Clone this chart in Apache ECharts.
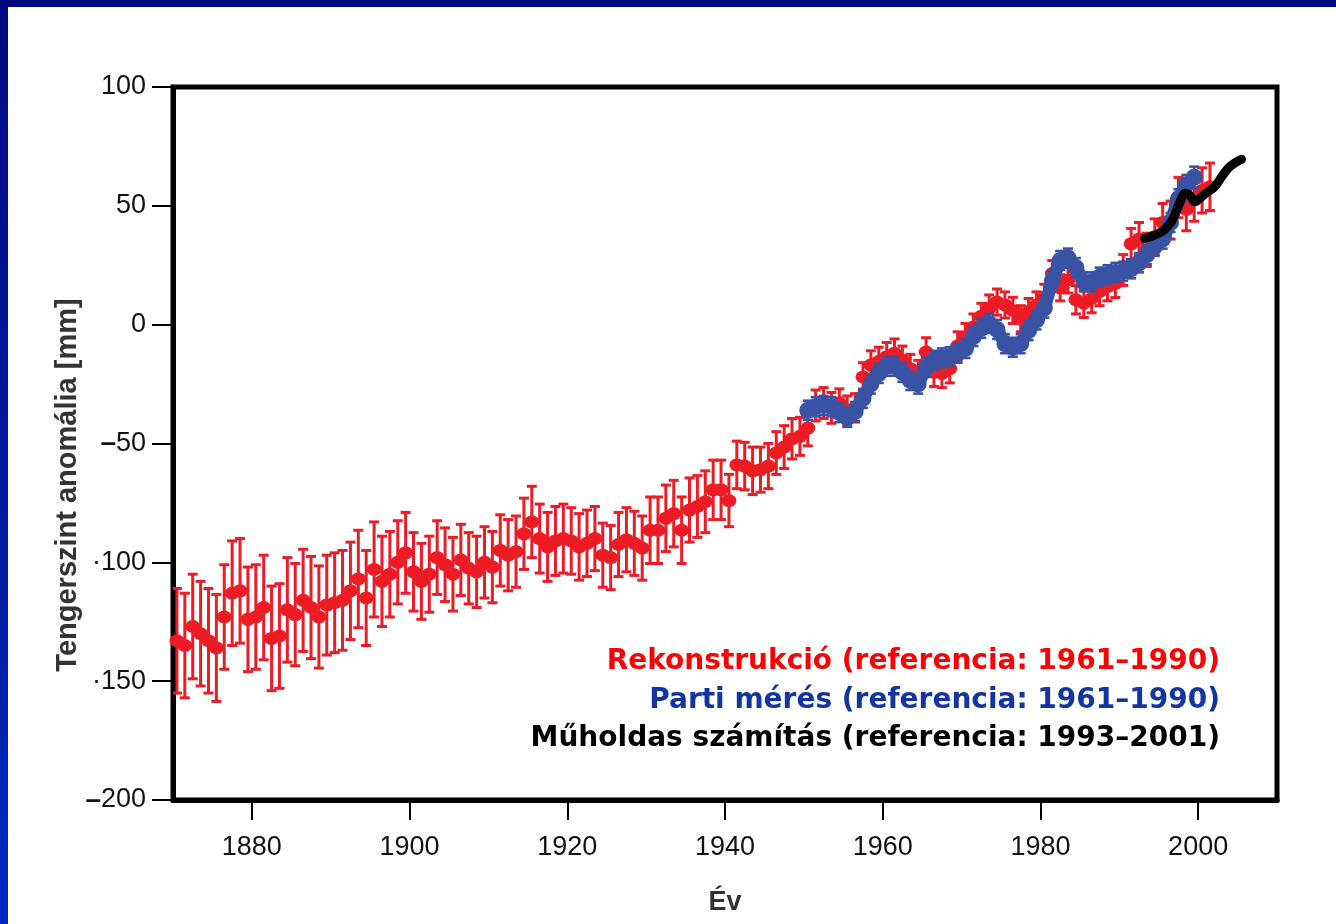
<!DOCTYPE html>
<html>
<head>
<meta charset="utf-8">
<title>Tengerszint anomália</title>
<script src="https://cdn.jsdelivr.net/npm/echarts@6/dist/echarts.min.js"></script>
<style>
  html, body { margin: 0; padding: 0; width: 1336px; height: 924px; overflow: hidden; background: #ffffff; }
  #chart { position: absolute; left: 0; top: 0; width: 1336px; height: 924px; }
  .frame-top { position: absolute; left: 0; top: 0; width: 1336px; height: 7px; background: #000a80; }
  .frame-left { position: absolute; left: 0; top: 0; width: 8px; height: 924px; background: linear-gradient(#000a80, #0028c0); }
</style>
</head>
<body>
<div id="chart"></div>
<div class="frame-top"></div>
<div class="frame-left"></div>
<script>
// Reconstructed global mean sea level, annual values from 1870 (mm, relative to 1961–1990)
const reconStartYear = 1870;
const reconValues = [
  -133, -135, -127, -130, -133, -136, -123, -113, -112, -124,
  -123, -119, -132, -131, -120, -122, -116, -119, -123, -118,
  -117, -116, -112, -107, -115, -103, -108, -105, -100, -96,
  -104, -108, -105, -98, -101, -105, -99, -102.5, -104, -100,
  -102, -95, -97, -95.5, -88, -83, -90, -93.5, -91, -90,
  -91, -93.5, -92, -90, -97, -98, -92.5, -90.5, -92, -94,
  -86.5, -86.5, -81.5, -79.5, -86.5, -78, -76.5, -74.5, -69.5, -69.5,
  -74, -59, -59.5, -61.5, -61, -59.5, -54, -51.5, -48, -47,
  -43.5, -34, -33, -35, -33, -36, -35, -22, -17, -15.5,
  -13.5, -12, -15, -18.5, -21, -11.5, -20, -20.5, -18.5, -9,
  -5, -1, 3.5, 7, 9.5, 8.3, 6, 2.5, 5.5, 8.3,
  11.5, 21.5, 15.5, 18.8, 10.5, 9, 11, 14, 16, 17.4,
  23, 34, 36, 31.5, 37, 43, 44, 53.5, 48.5, 52.5,
  56.5, 58
];
// One-sigma uncertainty of the reconstruction (mm)
const reconErrors = [
  22, 22, 22, 22, 22, 22.5, 22, 22, 22, 22,
  22, 22, 22, 22, 22, 21.5, 21.5, 21.5, 21.5, 21,
  21, 21, 20.5, 20.5, 20, 20, 19, 18, 17.5, 17,
  16.5, 16, 16, 15.5, 15.5, 15.5, 15, 15, 15, 15,
  15, 15, 15, 15, 15, 15, 14.5, 14.5, 14.5, 14.5,
  14, 14, 14, 13.5, 13.5, 13.5, 13.5, 13.5, 13.5, 13.5,
  14, 14, 14, 14, 14, 13.5, 13, 13, 12.5, 12.5,
  11, 10, 10, 10, 9.5, 9.5, 9, 9, 8.5, 8,
  7.5, 6.5, 6.5, 6.5, 6, 6, 6, 6, 6, 6,
  6, 6, 6, 6, 6, 6, 6, 6, 6, 6,
  5.5, 5.5, 5.5, 5.5, 5.5, 5.5, 5.5, 5.5, 5.5, 5.5,
  5.5, 5.5, 5.5, 5.5, 6, 6, 6, 6, 6, 6,
  6.5, 6.5, 7, 7, 7.5, 8, 8, 8.5, 9, 9,
  9.5, 10
];

// Tide-gauge sea level, annual values from 1950 (mm, relative to 1961–1990)
const gaugeStartYear = 1950;
const gaugeValues = [
  -36, -34.5, -34, -34.5, -37, -39, -36.5, -31, -25, -20.5,
  -17.5, -17.5, -20, -23.5, -25, -18, -15, -14, -13.5, -12,
  -10, -5, -1.5, 0.5, -2, -8, -9.5, -8, -2.5, 2,
  7, 18.5, 27, 28, 24, 18, 18, 20, 21, 22,
  22.5, 23.5, 26, 29.5, 33, 36, 43, 53, 59, 62
];
const gaugeErrors = [
  4, 4, 4, 4, 4, 4, 4, 4, 4, 4,
  4, 4, 4, 4, 4, 4, 4, 4, 4, 4,
  4, 4, 4, 4, 4, 4, 4, 4, 4, 4,
  4, 4, 4, 4, 4, 4, 4, 4, 4, 4,
  4, 4, 4, 4, 4, 4, 4, 4, 4, 4.5
];

// Satellite altimetry (mm, relative to 1993–2001)
const satYears  = [1993.2, 1994.5, 1995.7, 1996.6, 1997.2, 1997.9, 1998.3, 1998.9, 1999.6, 2000.2, 2001.0, 2002.1, 2003.0, 2003.8, 2004.6, 2005.5];
const satValues = [36.3, 37.7, 39.8, 43.3, 47.5, 53.2, 55.3, 54.6, 51.7, 53.2, 55.3, 58.1, 62.3, 65.8, 67.9, 69.6];

// Axis ticks and labels
const xTicks = [1880, 1900, 1920, 1940, 1960, 1980, 2000];
const yTickValues = [100, 50, 0, -50, -100, -150, -200];
const yTickLabels = ['100', '50', '0', '{d|–}50', '·100', '·150', '{d|–}200'];
const yTitle = 'Tengerszint anomália [mm]';
const xTitle = 'Év';

const legendLines = [
  { text: 'Rekonstrukció (referencia: 1961–1990)', color: '#ff0000' },
  { text: 'Parti mérés (referencia: 1961–1990)', color: '#1235a0' },
  { text: 'Műholdas számítás (referencia: 1993–2001)', color: '#000000' }
];

const RED = '#ed1c24';
const BLUE = '#3953a4';

// Annual means are plotted at mid-year
const reconPoints = reconValues.map((v, i) => [reconStartYear + i + 0.5, v]);
const reconBars = reconValues.map((v, i) => [reconStartYear + i + 0.5, v - reconErrors[i], v + reconErrors[i]]);
const gaugePoints = gaugeValues.map((v, i) => [gaugeStartYear + i + 0.5, v]);
const gaugeBars = gaugeValues.map((v, i) => [gaugeStartYear + i + 0.5, v - gaugeErrors[i], v + gaugeErrors[i]]);
const satPoints = satYears.map((y, i) => [y, satValues[i]]);

function errorBarRenderer(color, capHalf, lineWidth) {
  return function (params, api) {
    const x = api.value(0);
    const lo = api.coord([x, api.value(1)]);
    const hi = api.coord([x, api.value(2)]);
    const style = { stroke: color, lineWidth: lineWidth };
    return {
      type: 'group',
      children: [
        { type: 'line', shape: { x1: lo[0], y1: lo[1], x2: hi[0], y2: hi[1] }, style: style },
        { type: 'line', shape: { x1: lo[0] - capHalf, y1: lo[1], x2: lo[0] + capHalf, y2: lo[1] }, style: style },
        { type: 'line', shape: { x1: hi[0] - capHalf, y1: hi[1], x2: hi[0] + capHalf, y2: hi[1] }, style: style }
      ]
    };
  };
}

const chart = echarts.init(document.getElementById('chart'), null, { renderer: 'canvas' });

const axisFont = 'Liberation Sans, Arial, Helvetica, sans-serif';

chart.setOption({
  animation: false,
  backgroundColor: 'transparent',
  grid: {
    left: 173, right: 59, top: 87, bottom: 124,
    show: true, borderColor: '#000', borderWidth: 5, backgroundColor: 'transparent'
  },
  xAxis: {
    type: 'value', min: 1870, max: 2010,
    axisLine: { show: true, onZero: false, lineStyle: { color: '#000', width: 5 } },
    axisTick: { show: true, customValues: xTicks, length: 20, lineStyle: { color: '#000', width: 2 } },
    axisLabel: {
      customValues: xTicks, margin: 34, fontSize: 27, color: '#111', fontFamily: axisFont,
      formatter: function (v) { return String(v); }
    },
    splitLine: { show: false },
    name: xTitle, nameLocation: 'middle', nameGap: 89,
    nameTextStyle: { fontSize: 27, fontWeight: 'bold', color: '#333', fontFamily: axisFont }
  },
  yAxis: {
    type: 'value', min: -200, max: 100, interval: 50,
    axisLine: { show: true, onZero: false, lineStyle: { color: '#000', width: 5 } },
    axisTick: { show: true, length: 21, lineStyle: { color: '#000', width: 2 } },
    axisLabel: {
      margin: 27, fontSize: 27, color: '#111', fontFamily: axisFont,
      formatter: function (v) {
        const k = yTickValues.indexOf(v);
        return k >= 0 ? yTickLabels[k] : '';
      },
      rich: { d: { fontSize: 28, fontWeight: 'bold', color: '#111', fontFamily: axisFont } }
    },
    splitLine: { show: false }
  },
  series: [
    {
      name: 'Rekonstrukció hiba', type: 'custom', z: 2, clip: true,
      renderItem: errorBarRenderer(RED, 5, 3),
      encode: { x: 0, y: [1, 2] },
      data: reconBars
    },
    {
      name: 'Rekonstrukció', type: 'scatter', z: 3,
      symbol: 'circle', symbolSize: [15, 13],
      itemStyle: { color: RED, opacity: 1 },
      data: reconPoints
    },
    {
      name: 'Parti mérés hiba', type: 'custom', z: 4, clip: true,
      renderItem: errorBarRenderer(BLUE, 5, 2.6),
      encode: { x: 0, y: [1, 2] },
      data: gaugeBars
    },
    {
      name: 'Parti mérés', type: 'line', z: 5,
      symbol: 'circle', symbolSize: 17, showSymbol: true,
      lineStyle: { color: BLUE, width: 13 },
      itemStyle: { color: BLUE, opacity: 1 },
      data: gaugePoints
    },
    {
      name: 'Műholdas számítás', type: 'line', z: 6,
      smooth: 0.4, symbol: 'none',
      lineStyle: { color: '#000', width: 9, cap: 'round', join: 'round' },
      data: satPoints
    }
  ],
  graphic: [
    {
      type: 'text', x: 68, y: 485, rotation: Math.PI / 2, z: 10,
      style: {
        text: yTitle, fill: '#333', align: 'center', verticalAlign: 'middle',
        font: 'bold 29px Liberation Sans, Arial, sans-serif'
      }
    }
  ].concat(legendLines.map((l, i) => ({
    type: 'text', right: 116, top: 648 + i * 38.5, z: 10,
    style: {
      text: l.text, fill: l.color,
      font: 'bold 28px "DejaVu Sans", sans-serif'
    }
  })))
});
</script>
</body>
</html>
